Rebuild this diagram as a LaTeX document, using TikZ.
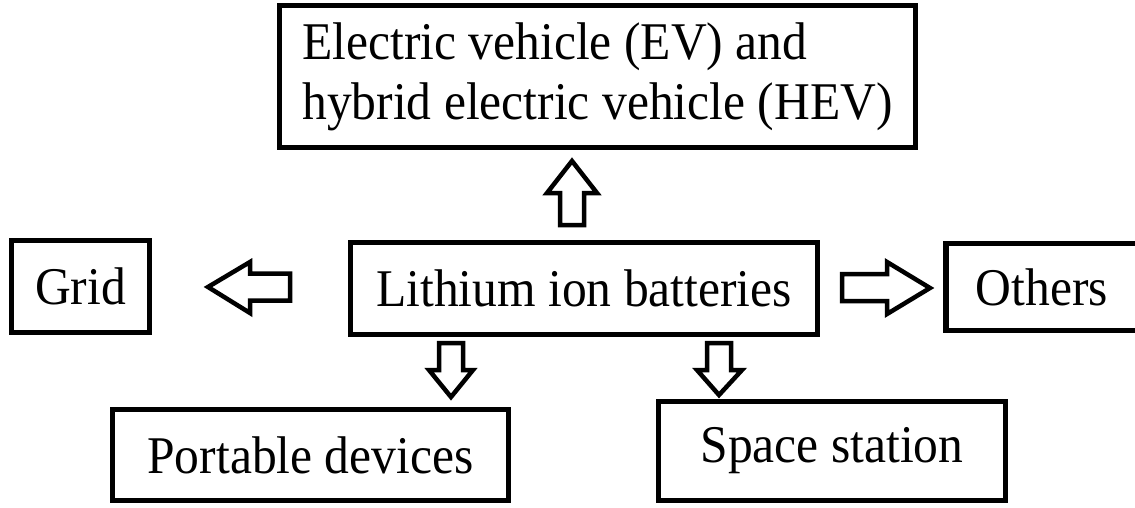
\documentclass[tikz,border=0pt]{standalone}
\usepackage{fontspec}
\setmainfont{Liberation Serif}[FakeStretch=0.935]
\begin{document}
\begin{tikzpicture}[x=1pt,y=-1pt,
  box/.style={draw, line width=5.5pt, rectangle, inner sep=0pt, font=\fontsize{53}{60}\selectfont},
  barrow/.style={draw, line width=4.5pt, line join=miter, fill=white}]
\useasboundingbox (0,0) rectangle (1135,508);
\clip (0,0) rectangle (1135,508);
\node[box, minimum width=636pt, minimum height=142pt, align=left] (ev) at (597.5,76.5) {Electric vehicle (EV) and\\hybrid electric vehicle (HEV)};
\node[box, minimum width=138pt, minimum height=92pt] (grid) at (80.5,286.5) {Grid};
\node[box, minimum width=467pt, minimum height=92pt] (lib) at (584,288.5) {Lithium ion batteries};
\node[box, minimum width=192pt, minimum height=87pt] (others) at (1042,287) {Others};
\node[box, minimum width=396pt, minimum height=91pt] (port) at (310.5,455) {Portable devices};
\node[box, minimum width=347pt, minimum height=99pt] (space) at (832,451) {Space station};
% block arrows
\draw[barrow] (208,287) -- (250,262) -- (250,273.5) -- (290,273.5) -- (290,300.5) -- (250,300.5) -- (250,313) -- cycle;
\draw[barrow] (930,288) -- (887,262) -- (887,274) -- (842,274) -- (842,301) -- (887,301) -- (887,314) -- cycle;
\draw[barrow] (572,161) -- (547,193) -- (560,193) -- (560,225) -- (584,225) -- (584,193) -- (597,193) -- cycle;
\draw[barrow] (451,397) -- (429,370) -- (439,370) -- (439,343) -- (463,343) -- (463,370) -- (473,370) -- cycle;
\draw[barrow] (719,395) -- (697,370) -- (707,370) -- (707,343) -- (731,343) -- (731,370) -- (742,370) -- cycle;
\end{tikzpicture}
\end{document}
